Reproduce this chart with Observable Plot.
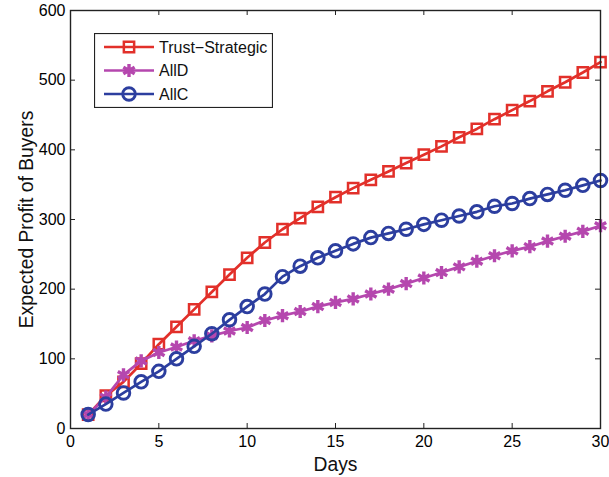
<!DOCTYPE html>
<html>
<head>
<meta charset="utf-8">
<script src="https://cdn.jsdelivr.net/npm/d3@7"></script>
<script src="https://cdn.jsdelivr.net/npm/@observablehq/plot@0.6"></script>
<style>
  html, body { margin: 0; padding: 0; background: #fff; }
  #wrap { position: relative; width: 609px; height: 477px; font-family: "Liberation Sans", Arial, Helvetica, sans-serif; }
  #legend { position: absolute; left: 94px; top: 33px; }
</style>
</head>
<body>
<div id="wrap"></div>
<script>
const days = d3.range(1, 31);
const trustStrategic = [20, 47, 67, 93, 121, 146, 171, 196, 221, 245, 267, 286, 302, 318, 332, 345, 357, 369, 381, 393, 405, 418, 430, 444, 457, 470, 484, 497, 511, 526];
const allD = [20, 45, 77, 97, 109, 117, 126, 133, 140, 145, 155, 162, 168, 175, 181, 186, 193, 200, 208, 216, 224, 232, 240, 248, 255, 261, 269, 276, 283, 291];
const allC = [20, 35, 51, 67, 82, 100, 118, 136, 156, 175, 193, 218, 233, 245, 255, 265, 274, 280, 286, 293, 299, 305, 311, 319, 323, 330, 336, 342, 349, 356];
const xTicks = [0, 5, 10, 15, 20, 25, 30];
const yTicks = [0, 100, 200, 300, 400, 500, 600];
const seriesNames = ["Trust\u2212Strategic", "AllD", "AllC"];
const seriesColors = ["#e2302a", "#b547ae", "#2c3e9f"];
const seriesSymbols = ["square", "asterisk", "circle"];
const xLabel = "Days";
const yLabel = "Expected Profit of Buyers";

const seriesValues = [trustStrategic, allD, allC];
const series = seriesNames.map((name, i) => ({
  name, color: seriesColors[i], symbol: seriesSymbols[i],
  data: days.map((d, j) => ({day: d, value: seriesValues[i][j]}))
}));

const markStyle = {
  square: {r: 5.8, strokeWidth: 2.5, fill: "none"},
  asterisk: {r: 6.2, strokeWidth: 3.4, fill: "none"},
  circle: {r: 6.3, strokeWidth: 2.9, fill: "none"}
};

const W = 609, H = 477, ML = 70, MR = 9, MT = 10, MB = 49;
const plotW = W - ML - MR, plotH = H - MT - MB, tickLen = 5;

const marks = [];
for (const s of series) {
  marks.push(Plot.line(s.data, {x: "day", y: "value", stroke: s.color, strokeWidth: 2.7}));
  const st = markStyle[s.symbol];
  marks.push(Plot.dot(s.data, {x: "day", y: "value", symbol: s.symbol, r: st.r, stroke: s.color, strokeWidth: st.strokeWidth, fill: st.fill}));
}

const chart = Plot.plot({
  width: W,
  height: H,
  marginLeft: ML,
  marginRight: MR,
  marginTop: MT,
  marginBottom: MB,
  style: {fontFamily: "'Liberation Sans', Arial, Helvetica, sans-serif", fontSize: "16px", color: "#000", background: "#fff"},
  x: {domain: [0, 30]},
  y: {domain: [0, 600]},
  marks: [
    ...marks,
    Plot.axisX(xTicks, {anchor: "bottom", tickSize: -5, tickPadding: 12.6, label: null, fontSize: 16, stroke: "#222"}),
    Plot.axisY(yTicks, {anchor: "left", tickSize: -5, tickPadding: 10, label: null, fontSize: 16, stroke: "#222"}),
    Plot.tickX(xTicks, {x: d => d, insetBottom: plotH - tickLen, stroke: "#222"}),
    Plot.tickY(yTicks, {y: d => d, insetLeft: plotW - tickLen, stroke: "#222"}),
    Plot.frame({stroke: "#222", strokeWidth: 1.4}),
    Plot.text([xLabel], {frameAnchor: "bottom", textAnchor: "middle", dy: 36, fontSize: 19.3, lineAnchor: "middle", fill: "#111"}),
    Plot.text([yLabel], {frameAnchor: "left", textAnchor: "middle", dx: -44, rotate: -90, fontSize: 19.3, lineAnchor: "middle", fill: "#111"})
  ]
});

const wrap = document.getElementById("wrap");
wrap.appendChild(chart);

// Legend (overlay, like MATLAB's boxed legend)
const lw = 179, lh = 75;
const leg = d3.select(wrap).append("svg").attr("id", "legend").attr("width", lw).attr("height", lh);
leg.append("rect").attr("x", 0.5).attr("y", 0.5).attr("width", lw - 1).attr("height", lh - 1)
  .attr("fill", "#fff").attr("stroke", "#222").attr("stroke-width", 1.2);
const symMap = {square: d3.symbolSquare, asterisk: d3.symbolAsterisk, circle: d3.symbolCircle};
series.forEach((s, i) => {
  const cy = 14 + i * 23.5;
  const g = leg.append("g");
  g.append("line").attr("x1", 10).attr("x2", 60).attr("y1", cy).attr("y2", cy)
    .attr("stroke", s.color).attr("stroke-width", 2.7);
  const st = markStyle[s.symbol];
  g.append("path").attr("transform", `translate(35,${cy})`)
    .attr("d", d3.symbol(symMap[s.symbol], Math.PI * st.r * st.r)())
    .attr("fill", "none").attr("stroke", s.color).attr("stroke-width", st.strokeWidth);
  g.append("text").attr("x", 65).attr("y", cy).attr("dy", "0.35em")
    .attr("font-size", 16).attr("fill", "#111")
    .attr("font-family", "'Liberation Sans', Arial, Helvetica, sans-serif")
    .text(s.name);
});
</script>
</body>
</html>
